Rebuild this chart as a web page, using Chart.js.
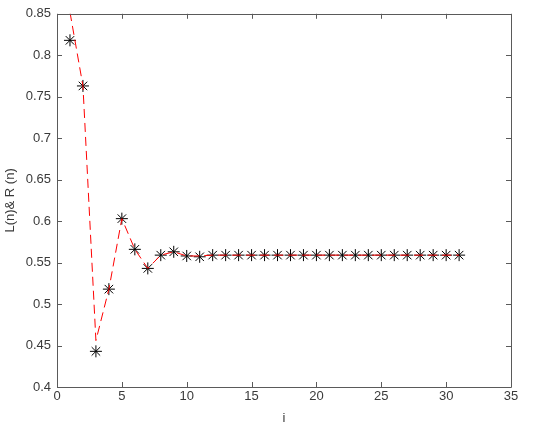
<!DOCTYPE html>
<html><head><meta charset="utf-8">
<script src="https://cdn.jsdelivr.net/npm/chart.js@4"></script>
<style>html,body{margin:0;padding:0;background:#fff}#c{display:block}</style>
</head><body>
<canvas id="c" width="550" height="434"></canvas>
<script>
const iValues = [1,2,3,4,5,6,7,8,9,10,11,12,13,14,15,16,17,18,19,20,21,22,23,24,25,26,27,28,29,30,31];
const lineL = [0.852,0.763,0.456,0.518,0.603,0.566,0.543,0.559,0.563,0.558,0.558,0.559,0.559,0.559,0.559,0.559,0.559,0.559,0.559,0.559,0.559,0.559,0.559,0.559,0.559,0.559,0.559,0.559,0.559,0.559,0.559];
const markR = [0.818,0.763,0.443,0.518,0.603,0.566,0.543,0.559,0.563,0.558,0.557,0.559,0.559,0.559,0.559,0.559,0.559,0.559,0.559,0.559,0.559,0.559,0.559,0.559,0.559,0.559,0.559,0.559,0.559,0.559,0.559];
const xTicks = [0,5,10,15,20,25,30,35];
const yTicks = [0.4,0.45,0.5,0.55,0.6,0.65,0.7,0.75,0.8,0.85];

const axisColor = '#5a5a5a';
const textColor = '#3a3a3a';
const font = {family: '"Liberation Sans", Arial, sans-serif', size: 13};

const boxTicks = {
  id: 'boxTicks',
  afterDraw(chart) {
    const {ctx, chartArea: a, scales: {x, y}} = chart;
    ctx.save();
    ctx.strokeStyle = axisColor;
    ctx.lineWidth = 1;
    ctx.beginPath();
    ctx.rect(Math.round(a.left)+0.5, Math.round(a.top)+0.5, Math.round(a.right - a.left), Math.round(a.bottom - a.top));
    ctx.stroke();
    const L = 5;
    ctx.beginPath();
    xTicks.forEach(v => {
      const px = Math.round(x.getPixelForValue(v)) + 0.5;
      ctx.moveTo(px, a.bottom); ctx.lineTo(px, a.bottom - L);
      ctx.moveTo(px, a.top); ctx.lineTo(px, a.top + L);
    });
    yTicks.forEach(v => {
      const py = Math.round(y.getPixelForValue(v)) + 0.5;
      ctx.moveTo(a.left, py); ctx.lineTo(a.left + L, py);
      ctx.moveTo(a.right, py); ctx.lineTo(a.right - L, py);
    });
    ctx.stroke();
    ctx.restore();
  }
};

new Chart(document.getElementById('c'), {
  type: 'line',
  data: {
    datasets: [
      {
        label: 'L(n)',
        data: iValues.map((v, k) => ({x: v, y: lineL[k]})),
        borderColor: '#ff0000',
        borderWidth: 1,
        borderDash: [9, 5],
        pointRadius: 0,
        fill: false,
        tension: 0
      },
      {
        label: 'R(n)',
        data: iValues.map((v, k) => ({x: v, y: markR[k]})),
        showLine: false,
        pointStyle: 'star',
        pointRadius: 6,
        pointBorderColor: '#000',
        pointBackgroundColor: '#000',
        pointBorderWidth: 1
      }
    ]
  },
  options: {
    responsive: false,
    animation: false,
    devicePixelRatio: 1,
    layout: {padding: {left: 0, top: 10, right: 39, bottom: 0}},
    plugins: {legend: {display: false}, tooltip: {enabled: false}},
    scales: {
      x: {
        type: 'linear', min: 0, max: 35,
        afterFit(s) { s.height = 47; },
        afterBuildTicks(s) { s.ticks = xTicks.map(v => ({value: v})); },
        grid: {display: false, drawTicks: false},
        border: {display: false},
        ticks: {color: textColor, font, padding: 2, maxRotation: 0, autoSkip: false},
        title: {display: true, text: 'i', color: textColor, font, padding: {top: 4, bottom: 8}}
      },
      y: {
        type: 'linear', min: 0.4, max: 0.85,
        afterFit(s) { s.width = 57; },
        afterBuildTicks(s) { s.ticks = yTicks.map(v => ({value: v})); },
        grid: {display: false, drawTicks: false},
        border: {display: false},
        ticks: {color: textColor, font, padding: 6, autoSkip: false, callback: v => String(Math.round(v*100)/100)},
        title: {display: true, text: 'L(n)& R (n)', color: textColor, font, padding: {top: 3, bottom: 0}}
      }
    }
  },
  plugins: [boxTicks]
});
</script>
</body></html>
